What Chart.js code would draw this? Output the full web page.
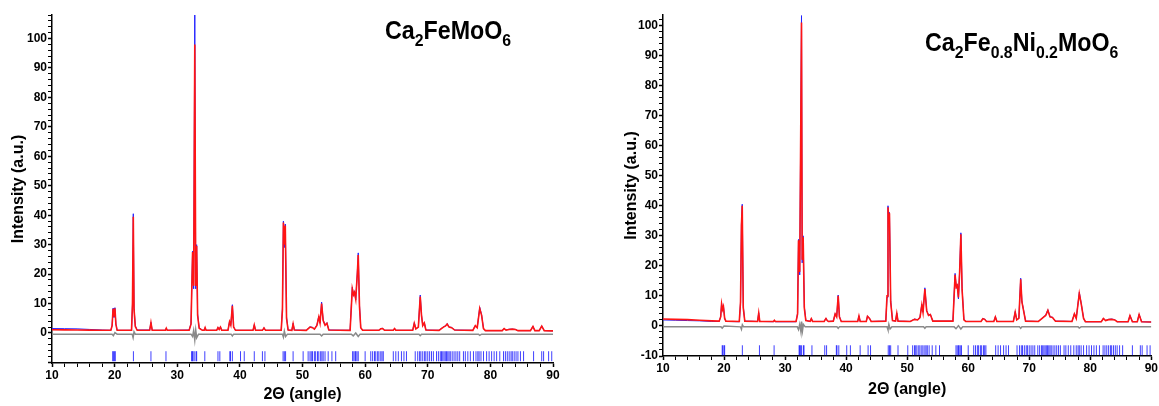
<!DOCTYPE html>
<html>
<head>
<meta charset="utf-8">
<script src="https://cdn.jsdelivr.net/npm/chart.js@4.4.1/dist/chart.umd.min.js"></script>
<style>
    body { margin: 0; background: #fff; width: 1159px; height: 406px; overflow: hidden; position: relative;
           font-family: "Liberation Sans", Arial, sans-serif; }
    .panel { position: absolute; top: 0; }
    .formula { position: absolute; font-size: 25px; font-weight: bold; color: #000; white-space: nowrap;
               line-height: 28px; transform: scaleX(0.93); transform-origin: 0 0; }
    .formula sub { font-size: 17px; vertical-align: -7px; line-height: 0; }
</style>
</head>
<body>
<canvas id="chart-fe" class="panel" style="left:0" width="575" height="406"></canvas>
<canvas id="chart-ni" class="panel" style="left:590px" width="569" height="406"></canvas>
<div class="formula" style="left:385px;top:16px">Ca<sub>2</sub>FeMoO<sub>6</sub></div>
<div class="formula" style="left:925px;top:28px">Ca<sub>2</sub>Fe<sub>0.8</sub>Ni<sub>0.2</sub>MoO<sub>6</sub></div>
<script>
// ---- Ca2FeMoO6 profile (2theta, calculated, observed) ----
var feAngle = [
    10, 12, 14, 16, 18,
    19.4, 19.6, 19.75, 19.9, 20.05, 20.2, 20.4,
    22.7, 22.85, 22.98, 23.1, 23.3, 23.6,
    25.6, 25.8, 26.0, 28.1, 28.25, 28.4,
    31.9, 32.2, 32.45, 32.62, 32.8, 32.95, 33.1, 33.25, 33.5, 34.0,
    34.3, 34.45, 34.6, 36.3, 36.5, 36.7, 36.9, 37.1,
    38.1, 38.35, 38.55, 38.8, 39.0, 39.3,
    42.1, 42.3, 42.5, 43.6, 43.85, 44.1,
    46.6, 46.8, 46.95, 47.1, 47.25, 47.45, 47.7, 48.3, 48.5, 48.7,
    50.6, 51.2, 51.6, 51.9, 52.3, 52.6, 52.8, 53.05, 53.3, 53.6, 53.9, 54.2,
    57.6, 57.95, 58.15, 58.3, 58.5, 58.75, 58.9, 59.1, 59.3, 59.6,
    62.2, 62.5, 62.8, 63.1, 64.5, 64.7, 64.9,
    67.6, 67.85, 68.1, 68.5, 68.8, 69.0, 69.2, 69.45, 69.7,
    71.8, 72.5, 72.8, 73.1, 73.4, 73.8, 74.3,
    77.2, 77.6, 77.9, 78.3, 78.6, 78.9, 79.2,
    81.9, 82.2, 82.5, 83.0, 83.5, 84.0, 84.4,
    86.4, 86.8, 87.1, 87.8, 88.2, 88.6, 90
];
var feCalc = [
    1.1, 1.05, 1.0, 0.95, 0.9,
    0.9, 2.5, 8.2, 5.5, 8.4, 3.0, 0.9,
    0.9, 10, 39.5, 8, 2.2, 0.9,
    0.9, 3.5, 0.9, 0.9, 1.6, 0.9,
    0.9, 3.0, 27.5, 16, 98, 16, 29.5, 6, 1.6, 0.9,
    0.9, 1.8, 0.9, 0.9, 1.8, 1.2, 2.0, 0.9,
    0.9, 3.8, 2.6, 9.2, 2.0, 0.9,
    0.9, 2.7, 0.9, 0.9, 1.7, 0.9,
    0.9, 8, 37.5, 30, 36.5, 5, 1.0, 0.9, 3.1, 1.0,
    0.9, 2.0, 1.8, 1.3, 2.6, 5.4, 3.4, 10, 4.2, 2.6, 3.3, 1.0,
    0.9, 15, 13, 13.8, 11.5, 20, 26.5, 9, 1.8, 0.9,
    0.9, 1.4, 1.5, 0.9, 0.9, 1.5, 0.9,
    0.9, 3.3, 1.4, 2.0, 12.4, 6, 2.5, 3.4, 1.0,
    0.9, 2.0, 2.3, 3.0, 2.0, 1.8, 1.0,
    0.9, 2.5, 1.8, 8.3, 6.0, 1.5, 0.8,
    0.8, 1.5, 1.0, 1.2, 1.3, 1.2, 0.8,
    0.8, 2.2, 0.8, 0.8, 2.3, 0.8, 0.7
];
var feObs = [
    1.5, 1.45, 1.4, 1.2, 1.0,
    0.9, 2.6, 8.4, 5.3, 8.6, 3.2, 0.9,
    0.9, 9.5, 40.5, 8.5, 2.5, 1.0,
    1.0, 3.6, 0.9, 0.9, 1.6, 0.9,
    1.0, 3.3, 27.8, 15, 108, 15, 30, 6.5, 1.8, 1.0,
    0.9, 1.8, 0.9, 0.9, 1.9, 1.2, 2.1, 0.9,
    0.9, 3.9, 2.6, 9.6, 2.1, 0.9,
    0.9, 2.8, 0.9, 0.9, 1.8, 0.9,
    0.9, 8.5, 38, 29, 37, 5.5, 1.0, 0.9, 3.3, 1.0,
    0.9, 2.1, 1.9, 1.3, 2.7, 5.7, 3.3, 10.5, 4.4, 2.7, 3.5, 1.0,
    0.9, 15.5, 12.8, 14.2, 11.2, 20.5, 27.2, 9.5, 1.8, 0.9,
    0.9, 1.5, 1.6, 0.9, 0.9, 1.6, 0.9,
    0.9, 3.5, 1.4, 2.0, 12.9, 6.2, 2.5, 3.6, 1.0,
    0.9, 2.1, 2.4, 3.2, 2.0, 1.9, 1.0,
    0.9, 2.6, 1.8, 8.7, 6.2, 1.5, 0.8,
    0.8, 1.6, 1.0, 1.3, 1.3, 1.2, 0.8,
    0.8, 2.3, 0.8, 0.8, 2.4, 0.8, 0.7
];
var feDiffAngle = [10, 19.6, 19.8, 20.05, 20.4, 22.8, 22.95, 23.1, 23.3, 32.2, 32.45, 32.62, 32.8, 32.95, 33.1, 33.4,
    38.6, 38.8, 39.0, 46.8, 46.95, 47.1, 47.3, 47.6, 52.8, 53.05, 53.3, 57.8, 58.1, 58.5, 58.9, 59.2,
    68.6, 68.8, 69.0, 78.1, 78.3, 78.6, 90];
var feDiff = [-0.4, -0.4, -0.9, 0.1, -0.4, -0.4, -1.6, 0.4, -0.4, -0.4, -1.2, 0.8, -2.4, 1.0, -1.6, -0.4,
    -0.4, -1.0, -0.4, -0.4, -1.4, 0.6, -1.2, -0.4, -0.4, -1.0, -0.4, -0.4, -1.0, 0.0, -1.2, -0.4,
    -0.4, -0.9, -0.4, -0.4, -0.8, -0.4, -0.4];

// ---- Ca2Fe0.8Ni0.2MoO6 profile ----
var niAngle = [
    10, 12, 14, 16, 18,
    19.2, 19.45, 19.6, 19.75, 19.9, 20.1, 20.3,
    22.5, 22.7, 22.85, 22.98, 23.15, 23.4,
    25.5, 25.68, 25.85, 28.1, 28.25, 28.4,
    31.8, 32.05, 32.2, 32.4, 32.69, 32.8, 32.96, 33.15, 33.4,
    34.1, 34.3, 34.5, 36.4, 36.7, 36.9, 37.1,
    37.9, 38.2, 38.45, 38.7, 38.9, 39.2,
    41.9, 42.1, 42.3, 43.3, 43.5, 43.8, 44.1,
    46.5, 46.7, 46.86, 46.98, 47.1, 47.3, 47.6, 48.1, 48.3, 48.5,
    50.5, 51.2, 51.7, 52.1, 52.4, 52.6, 52.9, 53.2, 53.5, 53.8, 54.2,
    57.5, 57.85, 58.05, 58.2, 58.4, 58.6, 58.8, 59.0, 59.3, 59.6,
    62.1, 62.4, 62.7, 63.0, 64.2, 64.45, 64.7,
    67.4, 67.7, 67.95, 68.3, 68.6, 68.8, 69.1, 69.4,
    71.5, 72.4, 72.7, 73.05, 73.4, 73.8, 74.3,
    77.0, 77.4, 77.7, 78.2, 78.5, 78.9, 79.2,
    81.8, 82.15, 82.5, 83.0, 83.5, 84.0, 84.4,
    86.2, 86.5, 86.9, 87.7, 88.0, 88.4, 90
];
var niCalc = [
    2.3, 2.2, 2.1, 1.9, 1.7,
    1.6, 3.0, 7.3, 5.5, 6.5, 2.5, 1.6,
    1.5, 8, 33.5, 40, 6, 1.6,
    1.5, 4.3, 1.5, 1.5, 1.9, 1.5,
    1.5, 4, 28.5, 18, 101, 22, 29.5, 6, 1.8,
    1.5, 2.4, 1.5, 1.5, 2.5, 1.8, 1.5,
    1.6, 4.0, 3.0, 10, 3.0, 1.5,
    1.5, 3.3, 1.5, 1.5, 3.2, 2.6, 1.5,
    1.6, 10, 39.5, 36, 37.5, 8, 1.8, 1.6, 4.2, 1.6,
    1.5, 2.2, 2.0, 2.8, 7.0, 4.5, 12.3, 5, 3.5, 3.8, 1.6,
    1.6, 17, 13, 13.5, 9.5, 18, 30.5, 12, 2.0, 1.5,
    1.5, 2.4, 2.2, 1.5, 1.5, 3.0, 1.5,
    1.5, 4.6, 2.0, 2.5, 15.5, 8, 4.8, 1.6,
    1.5, 3.0, 3.5, 5.2, 3.0, 2.8, 1.6,
    1.5, 4.0, 2.5, 10.8, 7.5, 2.5, 1.4,
    1.4, 2.5, 1.8, 2.1, 2.2, 2.0, 1.4,
    1.4, 3.4, 1.4, 1.4, 3.8, 1.4, 1.3
];
var niObs = [
    2.0, 1.9, 1.8, 1.7, 1.5,
    1.5, 3.1, 7.5, 5.3, 6.7, 2.6, 1.5,
    1.4, 7.5, 34, 40.5, 6.5, 1.6,
    1.5, 4.4, 1.5, 1.4, 1.9, 1.4,
    1.4, 4.3, 28.8, 17, 103.3, 21, 30, 6.5, 1.9,
    1.5, 2.5, 1.5, 1.5, 2.6, 1.8, 1.5,
    1.6, 4.1, 3.0, 10.3, 3.2, 1.5,
    1.5, 3.4, 1.5, 1.5, 3.3, 2.7, 1.5,
    1.6, 9.5, 40, 35.5, 37.8, 8.5, 1.8, 1.6, 4.3, 1.6,
    1.5, 2.3, 2.1, 2.9, 7.2, 4.6, 12.7, 5.2, 3.6, 3.9, 1.6,
    1.6, 17.5, 12.5, 13.8, 9.0, 18.5, 31, 12.5, 2.1, 1.5,
    1.5, 2.5, 2.3, 1.5, 1.5, 3.1, 1.5,
    1.5, 4.8, 2.0, 2.6, 15.9, 8.2, 5.0, 1.6,
    1.5, 3.1, 3.6, 5.4, 3.1, 2.9, 1.6,
    1.5, 4.1, 2.5, 11.2, 7.7, 2.6, 1.4,
    1.4, 2.6, 1.8, 2.2, 2.3, 2.1, 1.4,
    1.4, 3.5, 1.4, 1.4, 3.9, 1.4, 1.3
];
var niDiffAngle = [10, 19.5, 19.7, 20.0, 22.7, 22.85, 23.0, 23.2, 32.0, 32.2, 32.4, 32.6, 32.7, 32.85, 33.0, 33.3,
    38.5, 38.7, 38.9, 46.7, 46.86, 47.0, 47.2, 47.5, 52.7, 52.9, 53.1, 57.7, 58.0, 58.4, 58.8, 59.1,
    68.4, 68.6, 68.8, 78.0, 78.2, 78.5, 90];
var niDiff = [-0.3, -0.3, -0.7, 0.0, -0.3, -1.1, 0.4, -0.3, -0.3, -1.2, 0.6, -2.0, 1.5, -1.6, 0.5, -0.3,
    -0.3, -0.8, -0.3, -0.3, -1.3, 0.5, -1.0, -0.3, -0.3, -0.8, -0.3, -0.3, -0.9, 0.1, -1.0, -0.3,
    -0.3, -0.8, -0.3, -0.3, -0.7, -0.3, -0.3];

// ---- Bragg reflection positions (2theta) ----
var braggTicks = [
    19.7, 19.8, 20.0, 20.1, 23.0, 25.8, 28.2,
    32.3, 32.4, 32.5, 32.7, 33.0, 33.1, 34.4, 36.5, 36.8,
    38.4, 38.5, 38.8, 40.1, 40.7, 42.3, 43.6, 44.0,
    46.9, 47.1, 47.3, 48.5,
    50.1, 50.9, 51.2, 51.4, 51.6, 51.9, 52.1, 52.4, 52.6, 52.9, 53.1, 53.3, 53.6, 54.1, 54.7, 55.3,
    58.0, 58.2, 58.4, 58.5, 58.7, 58.9, 60.0,
    60.9, 61.2, 61.5, 61.7, 62.0, 62.2, 62.5, 62.7, 62.9,
    64.5, 64.9, 65.3, 65.8, 66.2, 66.6,
    68.0, 68.4, 68.7, 68.9, 69.2, 69.5, 69.7, 70.0, 70.3, 70.6, 70.9,
    71.4, 71.7, 72.0, 72.2, 72.4, 72.6, 72.8, 73.0, 73.2, 73.4, 73.6, 73.9, 74.2, 74.5, 74.8, 75.1,
    75.7, 76.0, 76.4, 76.8, 77.3, 77.7, 78.0, 78.2, 78.5, 78.9,
    79.4, 79.8, 80.2, 80.6, 81.0, 81.5,
    82.1, 82.4, 82.7, 83.0, 83.3, 83.5, 83.8, 84.1, 84.4, 84.8, 85.3,
    86.9, 88.2, 88.5, 89.3, 89.8
];

Chart.defaults.font.family = "'Liberation Sans', Arial, sans-serif";
Chart.defaults.color = '#000';

function toPoints(xs, ys) {
    return xs.map(function(x, i){ return {x: x, y: ys[i]}; });
}

function majorTick(ctx) {
    return ctx.tick && ctx.tick.value % 10 === 0 ? 1.5 : 1;
}

/**
 * Build one refinement panel.
 */
function buildPanel(id, p) {
    return new Chart(document.getElementById(id), {
        type: 'line',
        data: {
            datasets: [
                {label: 'Calculated', data: toPoints(p.angle, p.calc), borderColor: '#ff1414',
                 borderWidth: 1.6, pointRadius: 0, tension: 0},
                {label: 'Observed', data: toPoints(p.angle, p.obs), borderColor: '#2020ff',
                 borderWidth: 1, pointRadius: 0, tension: 0},
                {label: 'Difference', data: toPoints(p.diffAngle, p.diff), borderColor: '#8a8a8a',
                 borderWidth: 1.5, pointRadius: 0, tension: 0},
                {label: 'Bragg', data: p.bragg.map(function(a){ return {x: a, y: p.braggY}; }),
                 showLine: false, pointStyle: 'line', pointRotation: 90, pointRadius: 5,
                 pointBorderColor: 'rgba(0,0,255,0.75)', pointBorderWidth: 1}
            ]
        },
        options: {
            responsive: false,
            animation: false,
            layout: {padding: {top: 15, right: p.padRight, left: 0, bottom: 0}},
            plugins: {legend: {display: false}, tooltip: {enabled: false}},
            scales: {
                x: {
                    type: 'linear', min: 10, max: 90,
                    afterBuildTicks: function(scale){
                        var t = [];
                        for (var v = 10; v <= 90; v += 2) t.push({value: v});
                        scale.ticks = t;
                    },
                    afterFit: function(scale){ scale.height = p.xAxisHeight; },
                    ticks: {autoSkip: false, maxRotation: 0, padding: 1, font: {size: 12, weight: 'bold'},
                            callback: function(v){ return v % 10 === 0 ? v : ''; }},
                    grid: {drawOnChartArea: false, tickLength: 4, tickColor: '#000', tickWidth: majorTick},
                    border: {color: '#000', width: 1.5},
                    title: {display: true, text: '2\u0398 (angle)', font: {size: 16, weight: 'bold'},
                            padding: {top: 0, bottom: p.xTitlePad}}
                },
                y: {
                    type: 'linear', min: p.yMin, max: p.yMax,
                    afterBuildTicks: function(scale){
                        var t = [];
                        for (var v = -10; v <= p.yMax; v += 2) t.push({value: v});
                        scale.ticks = t;
                    },
                    afterFit: function(scale){ scale.width = p.yAxisWidth; },
                    ticks: {autoSkip: false, padding: 1, font: {size: 12, weight: 'bold'},
                            callback: function(v){
                                if (v % 10 !== 0) return '';
                                if (v < 0 && p.hideNegative) return '';
                                return v;
                            }},
                    grid: {drawOnChartArea: false, tickLength: 4, tickColor: '#000', tickWidth: majorTick},
                    border: {color: '#000', width: 1.5},
                    title: {display: true, text: 'Intensity (a.u.)', font: {size: 16, weight: 'bold'},
                            padding: {top: p.yTitlePad, bottom: 0}}
                }
            }
        }
    });
}

buildPanel('chart-fe', {
    angle: feAngle, calc: feCalc, obs: feObs, diffAngle: feDiffAngle, diff: feDiff,
    bragg: braggTicks, braggY: -7.9, yMin: -10.2, yMax: 108, hideNegative: true,
    padRight: 22, xAxisHeight: 43, yAxisWidth: 52, xTitlePad: 2, yTitlePad: 9
});

buildPanel('chart-ni', {
    angle: niAngle, calc: niCalc, obs: niObs, diffAngle: niDiffAngle, diff: niDiff,
    bragg: braggTicks, braggY: -8.1, yMin: -10, yMax: 103.5, hideNegative: false,
    padRight: 5, xAxisHeight: 50, yAxisWidth: 73, xTitlePad: 7, yTitlePad: 32
});
</script>
</body>
</html>
